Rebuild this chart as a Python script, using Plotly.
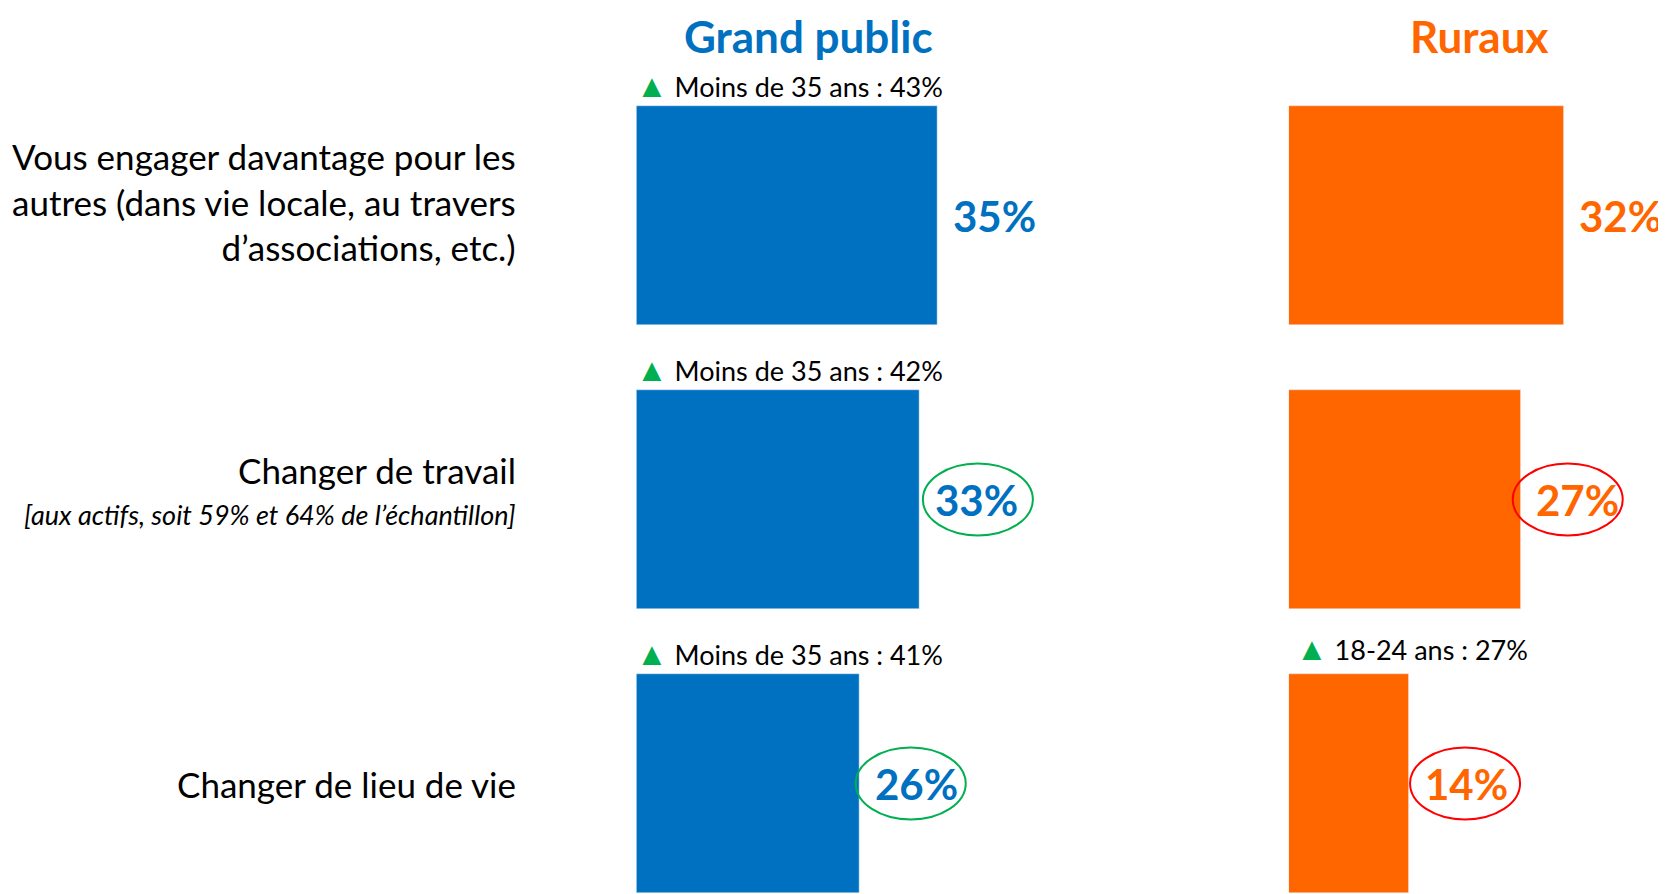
import plotly.graph_objects as go

# ---- data ----
categories = ["Vous engager davantage pour les<br>autres (dans vie locale, au travers<br>d’associations, etc.)",
              "Changer de travail",
              "Changer de lieu de vie"]
subtitles = ["", "[aux actifs, soit 59% et 64% de l’échantillon]", ""]
grand_public = [35, 33, 26]
ruraux = [32, 27, 14]
gp_notes = ["Moins de 35 ans : 43%", "Moins de 35 ans : 42%", "Moins de 35 ans : 41%"]
ru_notes = ["", "", "18-24 ans : 27%"]
gp_circles = [None, "#00B050", "#00B050"]
ru_circles = [None, "#FF0000", "#FF0000"]
panel_titles = ["Grand public", "Ruraux"]

BLUE = "#0070C0"
ORANGE = "#FF6600"
GREEN = "#00B050"
FONT = "Lato"
W, H = 1666, 894
OFF = 8  # page body margin

idx = list(range(len(categories)))
BAR_W = 0.768

fig = go.Figure()
fig.add_trace(go.Bar(y=idx, x=grand_public, orientation="h", marker_color=BLUE,
                     width=BAR_W, xaxis="x", yaxis="y", showlegend=False, hoverinfo="skip"))
fig.add_trace(go.Bar(y=idx, x=ruraux, orientation="h", marker_color=ORANGE,
                     width=BAR_W, xaxis="x2", yaxis="y", showlegend=False, hoverinfo="skip"))

ann = []
shapes = []

# value labels + circles
text_off = 57
gp_ell_off = [58, 58, 51]
ru_ell_off = [58, 47, 56]
for i in idx:
    for xref, vals, col, circ, eoff in (("x", grand_public, BLUE, gp_circles, gp_ell_off),
                                        ("x2", ruraux, ORANGE, ru_circles, ru_ell_off)):
        v = vals[i]
        ann.append(dict(x=v, y=i, xref=xref, yref="y", text=f"<b>{v}%</b>",
                        showarrow=False, xanchor="center", yanchor="middle", xshift=text_off,
                        font=dict(family=FONT, size=42, color=col)))
        if circ[i]:
            shapes.append(dict(type="circle", xref=xref, yref="y", xsizemode="pixel", ysizemode="pixel",
                               xanchor=v, yanchor=i, x0=eoff[i] - 55, x1=eoff[i] + 55, y0=-36, y1=36,
                               line=dict(color=circ[i], width=2)))

# notes above bars
for i in idx:
    for xref, notes, xs, ys in (("x", gp_notes, -2, 0), ("x2", ru_notes, 5, 5)):
        if notes[i]:
            ann.append(dict(x=0, y=i - BAR_W / 2, xref=xref, yref="y",
                            text=f"<span style='color:{GREEN};font-size:32px'>▲</span> {notes[i]}",
                            showarrow=False, xanchor="left", yanchor="bottom", xshift=xs, yshift=ys,
                            font=dict(family=FONT, size=27, color="#000000")))

# category labels
LAB_X = (518 - OFF) / W
lab_shift = [14, 30, 0]
for i in idx:
    ann.append(dict(x=LAB_X, y=i, xref="paper", yref="y", text=categories[i], showarrow=False,
                    xanchor="right", yanchor="middle", align="right", yshift=lab_shift[i],
                    font=dict(family=FONT, size=35, color="#000000")))
    if subtitles[i]:
        ann.append(dict(x=LAB_X, y=i, xref="paper", yref="y", text=f"<i>{subtitles[i]}</i>",
                        showarrow=False, xanchor="right", yanchor="middle", yshift=-15,
                        font=dict(family=FONT, size=27, color="#000000")))

# panel titles
for t, xc, col in zip(panel_titles, [(808 - OFF) / W, (1479 - OFF) / W], [BLUE, ORANGE]):
    ann.append(dict(x=xc, y=1, xref="paper", yref="paper", text=f"<b>{t}</b>",
                    showarrow=False, xanchor="center", yanchor="top",
                    font=dict(family=FONT, size=44, color=col)))

PX = 8.59
gp_start, ru_start = 636.4 - OFF, 1288.8 - OFF
R1, R2 = 50, 43
row0 = 215.5 - OFF
row_step = 284
y_top = -row0 / row_step
y_bot = y_top + H / row_step
fig.update_layout(
    width=W, height=H, margin=dict(l=0, r=0, t=0, b=0),
    paper_bgcolor="white", plot_bgcolor="white",
    xaxis=dict(domain=[gp_start / W, (gp_start + PX * R1) / W], range=[0, R1], visible=False),
    xaxis2=dict(domain=[ru_start / W, (ru_start + PX * R2) / W], range=[0, R2], visible=False),
    yaxis=dict(range=[y_bot, y_top], visible=False),
    annotations=ann, shapes=shapes, bargap=0,
)
fig.update_traces(cliponaxis=False)
fig.write_html("out.html")
